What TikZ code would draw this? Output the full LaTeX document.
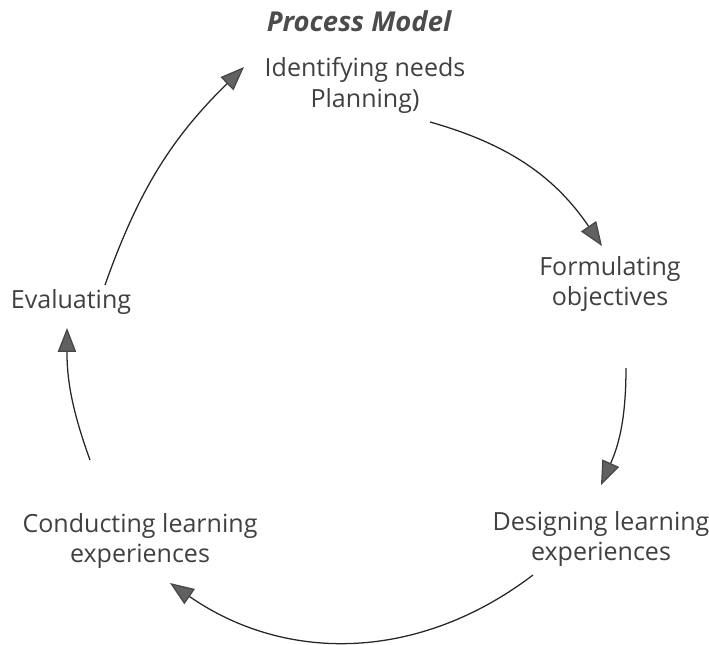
\documentclass[tikz,border=0pt]{standalone}
\usepackage{fontspec}
\setmainfont{Open Sans}
\usetikzlibrary{arrows.meta}

\begin{document}
\begin{tikzpicture}[x=0.025cm,y=-0.025cm,
	stage/.style={align=center,text=black!75,font=\fontsize{17.8}{22}\selectfont},
	flow/.style={line width=0.9pt,black!85,
		-{Triangle[length=17pt,width=13pt,fill=black!62,color=black!72]}}]
			% Frame
			\useasboundingbox (0,0) rectangle (709,644);

			% Title
			\node[text=black!70,font=\fontsize{19.5}{22}\selectfont\itshape\bfseries] (title) at (359,21) {Process Model};

			% Stages
			\node[stage] (ident) at (365,85) {Identifying needs\\Planning)};
			\node[stage] (form) at (610,284) {Formulating\\objectives};
			\node[stage] (desg) at (601,539) {Designing learning\\experiences};
			\node[stage] (cond) at (140,541) {Conducting learning\\experiences};
			\node[stage] (eval) at (71,302) {Evaluating};

			% Cycle arrows
			\draw[flow] ([shift={(65,37)}]ident.center) to[bend left=20] ([shift={(-8,-38)}]form.center);
			\draw[flow] ([shift={(16,84)}]form.center) to[bend left=12] ([shift={(0,-54)}]desg.center);
			\draw[flow] ([shift={(-68,36)}]desg.center) to[bend left=36] ([shift={(30,42)}]cond.center);
			\draw[flow] ([shift={(-50,-81)}]cond.center) to[bend left=10] ([shift={(-4,26)}]eval.center);
			\draw[flow] ([shift={(34,-17)}]eval.center) to[bend left=13] ([shift={(-121,-18)}]ident.center);
		\end{tikzpicture}
\end{document}
